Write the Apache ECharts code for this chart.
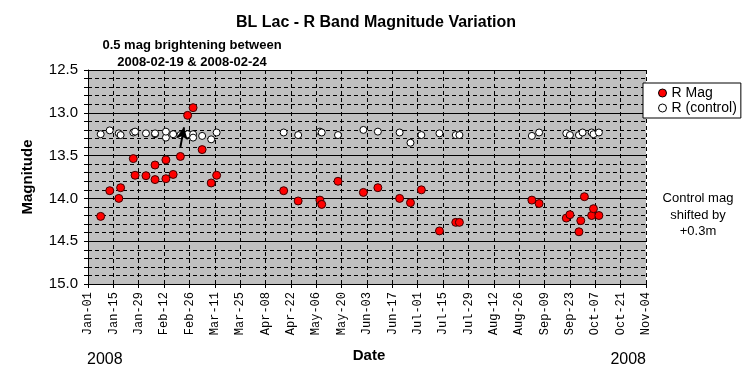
<!DOCTYPE html>
<html>
<head>
<meta charset="utf-8">
<script src="https://cdn.jsdelivr.net/npm/echarts@6/dist/echarts.min.js"></script>
<style>
html,body{margin:0;padding:0;background:#fff;}
#c{width:751px;height:384px;}
</style>
</head>
<body>
<div id="c"></div>
<script>
// ---- Data ----
const rMagDates = ['2008-01-08','2008-01-13','2008-01-18','2008-01-19','2008-01-26','2008-01-27','2008-02-02','2008-02-07','2008-02-07','2008-02-13','2008-02-13','2008-02-17','2008-02-21','2008-02-25','2008-02-28','2008-03-04','2008-03-09','2008-03-12',
  '2008-04-18','2008-04-26','2008-05-08','2008-05-09','2008-05-18','2008-06-01','2008-06-09','2008-06-21','2008-06-27','2008-07-03','2008-07-13','2008-07-22','2008-07-24',
  '2008-09-02','2008-09-06','2008-09-21','2008-09-23','2008-09-28','2008-09-29','2008-10-01','2008-10-05','2008-10-06','2008-10-09'];
const rMagValues = [14.21,13.91,14.00,13.875,13.535,13.73,13.735,13.78,13.61,13.55,13.77,13.72,13.51,13.03,12.94,13.43,13.82,13.73,
  13.91,14.03,14.02,14.07,13.80,13.93,13.875,14.00,14.05,13.90,14.38,14.28,14.28,
  14.02,14.06,14.23,14.19,14.39,14.26,13.98,14.20,14.12,14.20];

const ctrlDates = ['2008-01-08','2008-01-13','2008-01-18','2008-01-19','2008-01-26','2008-01-27','2008-02-02','2008-02-07','2008-02-07','2008-02-13','2008-02-13','2008-02-17','2008-02-21','2008-02-25','2008-02-28','2008-02-28','2008-03-04','2008-03-09','2008-03-12',
  '2008-04-18','2008-04-26','2008-05-08','2008-05-09','2008-05-18','2008-06-01','2008-06-09','2008-06-21','2008-06-27','2008-07-03','2008-07-13','2008-07-22','2008-07-24',
  '2008-09-02','2008-09-06','2008-09-21','2008-09-23','2008-09-28','2008-09-30','2008-10-05','2008-10-06','2008-10-09'];
const ctrlValues = [13.25,13.205,13.24,13.26,13.23,13.22,13.24,13.25,13.24,13.29,13.22,13.25,13.26,13.25,13.25,13.29,13.27,13.31,13.23,
  13.23,13.26,13.22,13.23,13.26,13.20,13.22,13.23,13.35,13.26,13.24,13.26,13.26,
  13.27,13.23,13.24,13.26,13.26,13.23,13.23,13.25,13.23];

const axisStart = '2008-01-01';
const axisEnd = '2008-11-04';
const tickDays = 14;
const yMin = 12.5, yMax = 15.0, yStep = 0.5;
const yearLabel = '2008';
const arrowFrom = ['2008-02-21', 13.40];
const arrowTo = ['2008-02-23', 13.17];

// ---- helpers ----
const MS = 86400000;
const t0 = Date.parse(axisStart + 'T00:00:00Z');
function dayOf(s){ return Math.round((Date.parse(s + 'T00:00:00Z') - t0) / MS); }
const MON = ['Jan','Feb','Mar','Apr','May','Jun','Jul','Aug','Sep','Oct','Nov','Dec'];
function fmtDay(d){
  const dt = new Date(t0 + d * MS);
  const dd = dt.getUTCDate();
  return MON[dt.getUTCMonth()] + '-' + (dd < 10 ? '0' : '') + dd;
}

const rData = rMagDates.map((d,i)=>[dayOf(d), rMagValues[i]]);
const cData = ctrlDates.map((d,i)=>[dayOf(d), ctrlValues[i]]);

const SANS = '"Liberation Sans", Arial, sans-serif';
const chart = echarts.init(document.getElementById('c'), null, {renderer:'canvas'});

chart.setOption({
  animation: false,
  backgroundColor: '#ffffff',
  grid: {left: 88, right: 105, top: 70, bottom: 100, show: true, backgroundColor: '#c0c0c0', borderWidth: 0},
  xAxis: {
    type: 'value',
    min: 0,
    max: dayOf(axisEnd),
    interval: tickDays,
    axisLine: {show: true, onZero: false, lineStyle: {color: '#000', width: 1}},
    axisTick: {show: true, length: 4, inside: false, lineStyle: {color: '#000'}},
    axisLabel: {
      rotate: 90, margin: 8, color: '#000',
      fontFamily: '"Liberation Mono", "Courier New", monospace', fontSize: 12,
      formatter: v => fmtDay(v),
      showMinLabel: true, showMaxLabel: true
    },
    splitLine: {show: true, lineStyle: {color: '#000', type: [4,3], width: 1}}
  },
  yAxis: {
    type: 'value',
    inverse: true,
    min: yMin, max: yMax, interval: yStep,
    axisLine: {show: true, lineStyle: {color: '#000', width: 1}},
    axisTick: {show: true, length: 4, lineStyle: {color: '#000'}},
    minorTick: {show: true, splitNumber: 5, length: 4, lineStyle: {color: '#000'}},
    axisLabel: {margin: 10, color: '#000', fontFamily: SANS, fontSize: 15, formatter: v => v.toFixed(1)},
    splitLine: {show: true, lineStyle: {color: '#000', width: 1}},
    minorSplitLine: {show: true, lineStyle: {color: '#000', type: [4,3], width: 1}}
  },
  legend: {
    orient: 'vertical',
    left: 643, top: 83,
    backgroundColor: '#fff',
    borderColor: '#000', borderWidth: 1, borderRadius: 0,
    padding: [3, 4, 3, 15],
    itemWidth: 8, itemHeight: 8, itemGap: 1,
    textStyle: {fontFamily: SANS, fontSize: 14, color: '#000', lineHeight: 14},
    data: [
      {name: 'R Mag', icon: 'circle', itemStyle: {color: '#ff0000', borderColor: '#000', borderWidth: 1}},
      {name: 'R (control)', icon: 'circle', itemStyle: {color: '#ffffff', borderColor: '#000', borderWidth: 1}}
    ]
  },
  series: [
    {
      name: 'R (control)', type: 'scatter', data: cData,
      symbol: 'circle', symbolSize: 7,
      itemStyle: {color: '#ffffff', borderColor: '#000', borderWidth: 1, opacity: 1},
      z: 3
    },
    {
      name: 'R Mag', type: 'scatter', data: rData,
      symbol: 'circle', symbolSize: 8,
      itemStyle: {color: '#ff0000', borderColor: '#400000', borderWidth: 1, opacity: 1},
      z: 4,
      markLine: {
        silent: true, symbol: ['none','arrow'], symbolSize: [9, 12],
        label: {show: false},
        lineStyle: {color: '#000', type: 'solid', width: 2},
        data: [[{coord: [dayOf(arrowFrom[0]), arrowFrom[1]]}, {coord: [dayOf(arrowTo[0]), arrowTo[1]]}]]
      }
    }
  ],
  graphic: [
    {type:'text', x: 376, y: 23, style: {text: 'BL Lac - R Band Magnitude Variation', font: 'bold 16px ' + SANS, fill: '#000', align: 'center', verticalAlign: 'middle'}},
    {type:'text', x: 192, y: 45.5, style: {text: '0.5 mag brightening between', font: 'bold 13px ' + SANS, fill: '#000', align: 'center', verticalAlign: 'middle'}},
    {type:'text', x: 192, y: 62, style: {text: '2008-02-19 & 2008-02-24', font: 'bold 13px ' + SANS, fill: '#000', align: 'center', verticalAlign: 'middle'}},
    {type:'text', x: 27.5, y: 177, rotation: Math.PI/2, style: {text: 'Magnitude', font: 'bold 15px ' + SANS, fill: '#000', align: 'center', verticalAlign: 'middle'}},
    {type:'text', x: 369, y: 356, style: {text: 'Date', font: 'bold 15px ' + SANS, fill: '#000', align: 'center', verticalAlign: 'middle'}},
    {type:'text', x: 87, y: 360, style: {text: yearLabel, font: '16px ' + SANS, fill: '#000', align: 'left', verticalAlign: 'middle'}},
    {type:'text', x: 646, y: 360, style: {text: yearLabel, font: '16px ' + SANS, fill: '#000', align: 'right', verticalAlign: 'middle'}},
    {type:'text', x: 698, y: 215, style: {text: 'Control mag\nshifted by\n+0.3m', font: '13px ' + SANS, lineHeight: 16.7, fill: '#000', align: 'center', verticalAlign: 'middle'}}
  ]
});
</script>
</body>
</html>
